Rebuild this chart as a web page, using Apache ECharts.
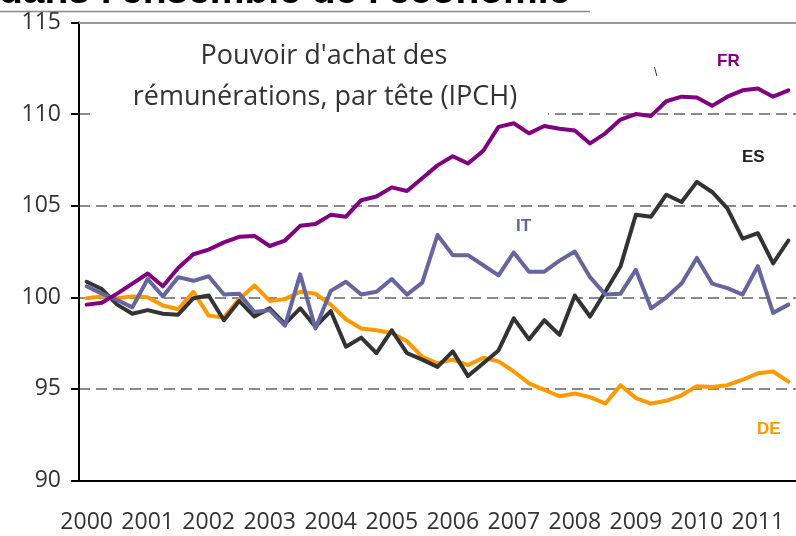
<!DOCTYPE html>
<html>
<head>
<meta charset="utf-8">
<script src="https://cdn.jsdelivr.net/npm/echarts@6/dist/echarts.min.js"></script>
<style>
  html, body { margin: 0; padding: 0; background: #fff; }
  #chart { width: 796px; height: 536px; }
</style>
</head>
<body>
<div id="chart"></div>
<script>
// années affichées sur l'axe (un libellé par T1)
const years = [2000, 2001, 2002, 2003, 2004, 2005, 2006, 2007, 2008, 2009, 2010, 2011];
// dernier trimestre visible : 2011 T3
const lastYearQuarters = 3;

// pouvoir d'achat des rémunérations par tête (IPCH), base 100
const FR = [99.6, 99.7, 100.2, 100.75, 101.3, 100.6, 101.6, 102.35, 102.6, 103.0, 103.3, 103.35,
  102.8, 103.1, 103.9, 104.0, 104.5, 104.4, 105.3, 105.5, 106.0, 105.8, 106.5, 107.2,
  107.7, 107.3, 108.0, 109.3, 109.5, 108.95, 109.35, 109.2, 109.1, 108.4, 108.95, 109.7,
  110.0, 109.9, 110.7, 110.95, 110.9, 110.45, 110.95, 111.3, 111.4, 110.95, 111.3];
const ES = [100.85, 100.45, 99.6, 99.1, 99.3, 99.1, 99.05, 99.95, 100.1, 98.75, 99.8, 98.95,
  99.4, 98.55, 99.4, 98.4, 99.25, 97.3, 97.8, 96.95, 98.2, 96.95, 96.6, 96.2,
  97.05, 95.7, 96.4, 97.1, 98.85, 97.7, 98.75, 97.95, 100.1, 98.95, 100.3, 101.7,
  104.5, 104.4, 105.6, 105.2, 106.3, 105.75, 104.85, 103.2, 103.5, 101.85, 103.1];
const IT = [100.6, 100.2, 99.85, 99.45, 101.0, 100.05, 101.1, 100.9, 101.15, 100.15, 100.2, 99.2,
  99.3, 98.45, 101.25, 98.3, 100.35, 100.85, 100.15, 100.3, 101.0, 100.15, 100.8, 103.4,
  102.3, 102.3, 101.75, 101.2, 102.45, 101.4, 101.4, 102.0, 102.5, 101.1, 100.15, 100.2,
  101.5, 99.4, 100.0, 100.75, 102.15, 100.75, 100.5, 100.15, 101.7, 99.15, 99.6];
const DE = [99.95, 100.05, 99.95, 100.05, 100.0, 99.55, 99.35, 100.3, 99.0, 98.9, 99.9, 100.65,
  99.8, 99.9, 100.3, 100.2, 99.6, 98.8, 98.3, 98.2, 98.05, 97.6, 96.75, 96.4,
  96.6, 96.3, 96.7, 96.5, 95.95, 95.3, 94.95, 94.6, 94.75, 94.55, 94.2, 95.2,
  94.5, 94.2, 94.35, 94.65, 95.15, 95.1, 95.2, 95.5, 95.85, 95.95, 95.4];

// trimestres : "2000 T1", "2000 T2", ...
const quarters = [];
years.forEach((y, k) => {
  const n = k === years.length - 1 ? lastYearQuarters : 4;
  for (let q = 1; q <= n; q++) quarters.push(y + ' T' + q);
});

const colors = { FR: '#800080', ES: '#333333', IT: '#6565a0', DE: '#ff9900' };

const chart = echarts.init(document.getElementById('chart'));

function lineSeries(name, data) {
  return {
    name: name,
    type: 'line',
    data: data,
    symbol: 'none',
    z: 3,
    lineStyle: { color: colors[name], width: 4, cap: 'round', join: 'round' }
  };
}

function tag(text, x, y, color) {
  return {
    type: 'text', x: x, y: y, z: 10,
    style: { text: text, fill: color, font: 'bold 17px "Liberation Sans", Arial, sans-serif' }
  };
}

const option = {
  animation: false,
  grid: { left: 79, top: 22.5, width: 722, height: 458 },
  xAxis: [
    {
      type: 'category',
      data: quarters,
      boundaryGap: true,
      axisLine: { lineStyle: { color: '#000', width: 2 } },
      axisTick: { interval: 3, length: 9, lineStyle: { color: '#000', width: 2 } },
      axisLabel: {
        interval: 3,
        margin: 30,
        color: '#333',
        fontSize: 23,
        fontFamily: '"Open Sans", sans-serif',
        formatter: (v) => v.slice(0, 4)
      },
      splitLine: { show: false }
    },
    {
      type: 'category',
      position: 'top',
      data: quarters,
      axisLine: { lineStyle: { color: '#999', width: 2 } },
      axisTick: { show: false },
      axisLabel: { show: false }
    }
  ],
  yAxis: {
    type: 'value',
    min: 90,
    max: 115,
    interval: 5,
    axisLine: { show: true, lineStyle: { color: '#000', width: 2 } },
    axisTick: { show: true, length: 8, lineStyle: { color: '#000', width: 2 } },
    axisLabel: {
      margin: 18,
      color: '#333',
      fontSize: 23,
      fontFamily: '"Open Sans", sans-serif'
    },
    splitLine: { lineStyle: { color: '#8a8a8a', width: 2, type: [11, 6] } }
  },
  series: [
    lineSeries('DE', DE),
    lineSeries('ES', ES),
    lineSeries('IT', IT),
    lineSeries('FR', FR)
  ],
  graphic: [
    // titre coupé en haut de l'image
    {
      type: 'text', x: -1, y: -27, z: 10,
      style: {
        text: "dans l'ensemble de l'économie",
        fill: '#000',
        font: 'bold 39px "Liberation Sans", Arial, sans-serif'
      }
    },
    {
      type: 'line', z: 10,
      shape: { x1: 0, y1: 11.5, x2: 590, y2: 11.5 },
      style: { stroke: '#888', lineWidth: 1.5 }
    },
    // encadré blanc du sous-titre
    {
      type: 'rect', z: 1,
      shape: { x: 92, y: 25, width: 456, height: 94 },
      style: { fill: '#fff' }
    },
    {
      type: 'text', x: 324, y: 56, z: 10,
      style: {
        text: "Pouvoir d'achat des",
        fill: '#333',
        align: 'center', verticalAlign: 'middle',
        font: '27px "Open Sans", sans-serif'
      }
    },
    {
      type: 'text', x: 325, y: 97, z: 10,
      style: {
        text: 'rémunérations, par tête (IPCH)',
        fill: '#333',
        align: 'center', verticalAlign: 'middle',
        font: '27px "Open Sans", sans-serif'
      }
    },
    tag('FR', 717, 53, colors.FR),
    tag('ES', 742, 149, '#222'),
    tag('IT', 516, 218, colors.IT),
    tag('DE', 757, 421, colors.DE),
    {
      type: 'text', x: 654, y: 67, z: 10,
      style: { text: '\\', fill: '#333', font: '12px "Liberation Sans", sans-serif' }
    }
  ]
};

chart.setOption(option);
</script>
</body>
</html>
